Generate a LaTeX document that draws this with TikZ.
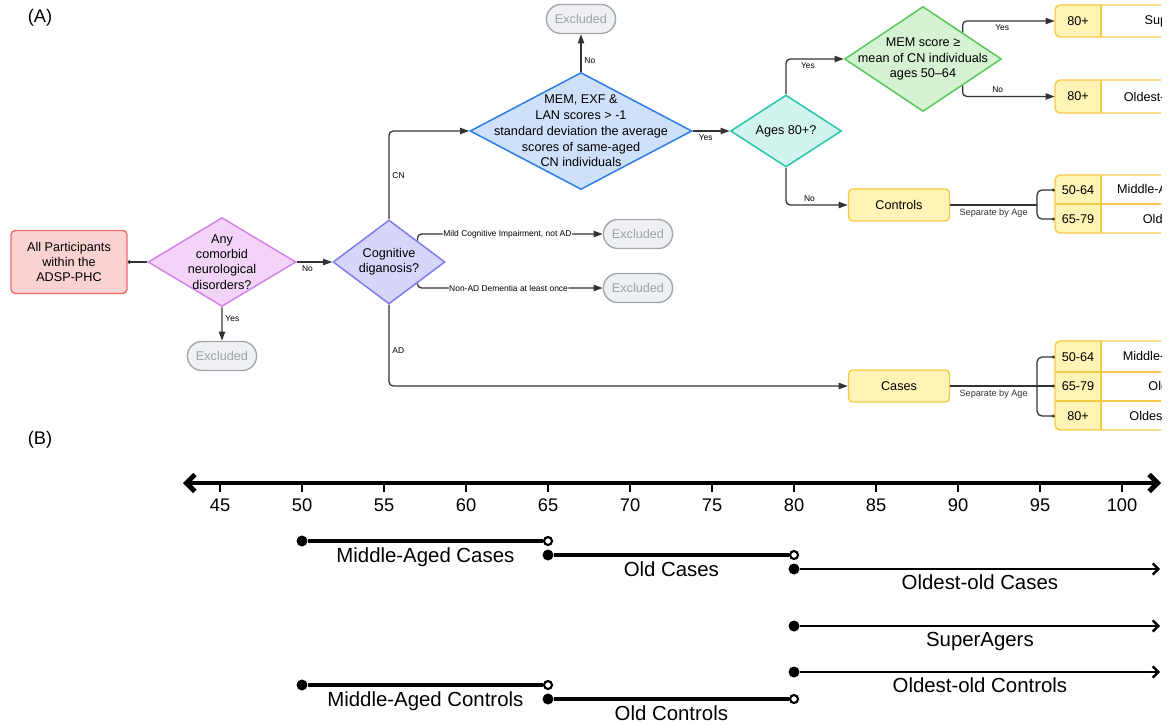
\documentclass[tikz,border=0pt]{standalone}
\usepackage{fontspec}
\setmainfont{Liberation Sans}
\usetikzlibrary{shapes.geometric,shapes.misc,arrows.meta}
\newlength\pxl
\setlength\pxl{0.025cm}
\definecolor{startfill}{HTML}{FAD2D2}
\definecolor{startdraw}{HTML}{EE6B6B}
\definecolor{dafill}{HTML}{F3D4F8}
\definecolor{dadraw}{HTML}{D884EA}
\definecolor{dbfill}{HTML}{D6D6FB}
\definecolor{dbdraw}{HTML}{8080F0}
\definecolor{dcfill}{HTML}{CFE1FA}
\definecolor{dcdraw}{HTML}{2F80E4}
\definecolor{ddfill}{HTML}{D2F4EF}
\definecolor{dddraw}{HTML}{2BC7A8}
\definecolor{defill}{HTML}{D5F3D3}
\definecolor{dedraw}{HTML}{5BC95F}
\definecolor{yfill}{HTML}{FFF3B5}
\definecolor{ydraw}{HTML}{F7CA45}
\definecolor{exfill}{HTML}{EFF0F3}
\definecolor{exdraw}{HTML}{A3A7AE}
\definecolor{extext}{HTML}{9EA2A8}
\definecolor{linec}{HTML}{333333}
\begin{document}
\begin{tikzpicture}[x=0.025cm,y=-0.025cm,
  mainfont/.style={font=\fontsize{9}{10.8}\selectfont},
  smalllab/.style={font=\fontsize{6}{7}\selectfont, text=black, inner sep=2pt},
  conn/.style={draw=linec, line width=0.9pt, rounded corners=3pt},
  arr/.style={conn, -{Triangle[length=6.5pt,width=4.5pt]}},
  dotarr/.style={conn, -{Circle[length=2pt]}},
  startbox/.style={rectangle, rounded corners=3pt, draw=startdraw, fill=startfill, line width=1pt, align=center, mainfont, minimum width=116\pxl, minimum height=63\pxl},
  ybox/.style={rectangle, rounded corners=3pt, draw=ydraw, fill=yfill, line width=1pt, mainfont, minimum width=101\pxl, minimum height=32\pxl},
  exbox/.style={rounded rectangle, draw=exdraw, fill=exfill, line width=1pt, text=extext, mainfont, minimum width=72\pxl, minimum height=29\pxl, inner sep=1pt},
  dia/.style={diamond, inner sep=0pt, line width=1.1pt},
  dtxt/.style={align=center, mainfont, inner sep=0pt},
  tb/.style={draw=ydraw, line width=1pt},
  cell/.style={mainfont, minimum width=46\pxl, inner sep=0pt},
  celltxt/.style={mainfont, inner sep=0pt},
  tlfont/.style={font=\fontsize{14.5}{17}\selectfont},
  fdot/.style={circle, fill=black, inner sep=0pt, minimum size=11\pxl},
  odot/.style={circle, draw=black, fill=white, line width=1.5pt, inner sep=0pt, minimum size=8\pxl},
  seg/.style={draw=black, line width=2.4pt},
  tline/.style={draw=black, line width=1.7pt, -{Straight Barb[length=4pt,width=8pt]}},
  axisline/.style={draw=black, line width=3.5pt, {Straight Barb[length=6pt,width=12pt]}-{Straight Barb[length=6pt,width=12pt]}},
  ticklab/.style={font=\fontsize{13}{15}\selectfont, inner sep=0pt}
]
\useasboundingbox (0,0) rectangle (1168,724);

% panel labels
\node[font=\fontsize{13}{15}\selectfont] (la) at (40,18) {(A)};
\node[font=\fontsize{13}{15}\selectfont] (lb) at (40,440) {(B)};

% ---------------- flowchart nodes ----------------
\node[startbox] (start) at (69,262) {All Participants\\within the\\ADSP-PHC};

\node[dia, draw=dadraw, fill=dafill, minimum width=148\pxl, minimum height=89\pxl] (d1) at (222,262) {};
\node[dtxt] (d1t) at (d1) {Any\\comorbid\\neurological\\disorders?};

\node[exbox] (ex1) at (222,356) {Excluded};

\node[dia, draw=dbdraw, fill=dbfill, minimum width=112\pxl, minimum height=84\pxl] (d2) at (389,262) {};
\node[dtxt] (d2t) at (d2) {Cognitive\\diganosis?};

\node[exbox] (ex2) at (638,234) {Excluded};
\node[exbox] (ex3) at (638,288) {Excluded};

\node[dia, draw=dcdraw, fill=dcfill, minimum width=222\pxl, minimum height=117\pxl] (d3) at (581,131) {};
\node[dtxt, font=\fontsize{9}{11.2}\selectfont] (d3t) at (d3) {MEM, EXF \&\\LAN scores > -1\\standard deviation the average\\scores of same-aged\\CN individuals};

\node[exbox] (ex4) at (581,19) {Excluded};

\node[dia, draw=dddraw, fill=ddfill, minimum width=111\pxl, minimum height=72\pxl] (d4) at (786,131) {};
\node[dtxt] (d4t) at (d4) {Ages 80+?};

\node[dia, draw=dedraw, fill=defill, minimum width=157\pxl, minimum height=105\pxl] (d5) at (923,59) {};
\node[dtxt, font=\fontsize{9}{11}\selectfont] (d5t) at (d5) {MEM score ≥\\mean of CN individuals\\ages 50–64};

\node[ybox] (controls) at (899,205) {Controls};
\node[ybox] (cases) at (899,386) {Cases};

\coordinate (brc) at (1037,205);
\coordinate (brd) at (1037,386);

% ---------------- tables (cut at the right edge) ----------------
\begin{scope}
\clip (1040,0) rectangle (1161,440);
% table 1
\fill[white] (1055,5) rectangle (1260,37);
\begin{scope}\clip[rounded corners=5\pxl] (1055,5) rectangle (1260,37); \fill[yfill] (1055,5) rectangle (1101,37);\end{scope}
\draw[tb, rounded corners=5\pxl] (1055,5) rectangle (1260,37);
\draw[tb] (1101,5) -- (1101,37);
\node[cell] (t1a) at (1078,21) {80+};
\node[celltxt] (t1b) at (1178,21) {SuperAgers};
% table 2
\fill[white] (1055,80) rectangle (1260,113);
\begin{scope}\clip[rounded corners=5\pxl] (1055,80) rectangle (1260,113); \fill[yfill] (1055,80) rectangle (1101,113);\end{scope}
\draw[tb, rounded corners=5\pxl] (1055,80) rectangle (1260,113);
\draw[tb] (1101,80) -- (1101,113);
\node[cell] (t2a) at (1078,96.5) {80+};
\node[celltxt] (t2b) at (1178,96.5) {Oldest-old Controls};
% table 3
\fill[white] (1055,175) rectangle (1260,233);
\begin{scope}\clip[rounded corners=5\pxl] (1055,175) rectangle (1260,233); \fill[yfill] (1055,175) rectangle (1101,233);\end{scope}
\draw[tb, rounded corners=5\pxl] (1055,175) rectangle (1260,233);
\draw[tb] (1101,175) -- (1101,233);
\draw[tb] (1055,204) -- (1260,204);
\node[cell] (t3a) at (1078,190) {50-64};
\node[celltxt] (t3c) at (1178,190) {Middle-Aged Controls};
\node[cell] (t3b) at (1078,219) {65-79};
\node[celltxt] (t3d) at (1178,219) {Old Controls};
% table 4
\fill[white] (1055,341) rectangle (1260,430);
\begin{scope}\clip[rounded corners=5\pxl] (1055,341) rectangle (1260,430); \fill[yfill] (1055,341) rectangle (1101,430);\end{scope}
\draw[tb, rounded corners=5\pxl] (1055,341) rectangle (1260,430);
\draw[tb] (1101,341) -- (1101,430);
\draw[tb] (1055,372) -- (1260,372);
\draw[tb] (1055,401) -- (1260,401);
\node[cell] (t4a) at (1078,357) {50-64};
\node[celltxt] (t4d) at (1178,357) {Middle-Aged Cases};
\node[cell] (t4b) at (1078,386) {65-79};
\node[celltxt] (t4e) at (1178,386) {Old Cases};
\node[cell] (t4c) at (1078,416) {80+};
\node[celltxt] (t4f) at (1178,416) {Oldest-old Cases};
\end{scope}

% ---------------- connectors ----------------
\draw[conn, {Circle[length=2.5pt]}-] (start) -- (d1);
\draw[arr] (d1) -- (d2) node[smalllab, below, pos=0.3] {No};
\draw[arr] (d1) -- (ex1) node[smalllab, right, pos=0.35] {Yes};
\draw[arr] (d2.north) |- (d3.west) node[smalllab, right, pos=0.25] {CN};
\draw[arr] (d2.north east) |- (ex2.west) node[smalllab, fill=white, inner sep=0.5pt, pos=0.743] {Mild Cognitive Impairment, not AD};
\draw[arr] (d2.south east) |- (ex3.west) node[smalllab, fill=white, inner sep=0.5pt, pos=0.746] {Non-AD Dementia at least once};
\draw[arr] (d2.south) |- (cases.west) node[smalllab, right, pos=0.28] {AD};
\draw[arr] (d3.north) -- (ex4.south) node[smalllab, right, pos=0.3] {No};
\draw[arr] (d3.east) -- (d4.west) node[smalllab, below, pos=0.35] {Yes};
\draw[arr] (d4.north) |- (d5.west) node[smalllab, below, pos=0.69] {Yes};
\draw[arr] (d4.south) |- (controls.west) node[smalllab, above, pos=0.69] {No};
\draw[arr] (d5.north east) |- (t1a.west) node[smalllab, below, pos=0.715] {Yes};
\draw[arr] (d5.south east) |- (t2a.west) node[smalllab, above, pos=0.69] {No};

\draw[conn] (controls.east) -- (brc) node[smalllab, below, midway, font=\fontsize{6.5}{7.5}\selectfont, text=black!80] {Separate by Age};
\draw[dotarr, rounded corners=5\pxl] (brc) |- (t3a.west);
\draw[dotarr, rounded corners=5\pxl] (brc) |- (t3b.west);
\draw[conn] (cases.east) -- (brd) node[smalllab, below, midway, font=\fontsize{6.5}{7.5}\selectfont, text=black!80] {Separate by Age};
\draw[dotarr, rounded corners=5\pxl] (brd) |- (t4a.west);
\draw[dotarr] (brd) -- (t4b.west);
\draw[dotarr, rounded corners=5\pxl] (brd) |- (t4c.west);

% ---------------- (B) timeline ----------------
\coordinate (axL) at (183,483);
\coordinate (axR) at (1161,483);
\draw[axisline] (axL) -- (axR);
\foreach \a in {45,50,...,100} {
  \draw[line width=0.8pt] ({302+(\a-50)*16.4},483) -- ({302+(\a-50)*16.4},492);
  \node[ticklab] at ({302+(\a-50)*16.4},505) {\a};
}

% Middle-aged cases
\node[fdot] (mca) at (302,541) {};
\node[odot] (mcb) at (548,541) {};
\draw[seg] (mca) -- (mcb) node[tlfont, midway, below] {Middle-Aged Cases};
% Old cases
\node[fdot] (oca) at (548,555) {};
\node[odot] (ocb) at (794,555) {};
\draw[seg] (oca) -- (ocb) node[tlfont, midway, below] {Old Cases};
% Oldest-old cases
\node[fdot] (ooa) at (794,569) {};
\coordinate (ooe) at (1160,569);
\draw[tline] (ooa) -- (ooe) node[tlfont, midway, below] {Oldest-old Cases};
% SuperAgers
\node[fdot] (saa) at (794,626) {};
\coordinate (sae) at (1160,626);
\draw[tline] (saa) -- (sae) node[tlfont, midway, below] {SuperAgers};
% Oldest-old controls
\node[fdot] (oka) at (794,672) {};
\coordinate (oke) at (1160,672);
\draw[tline] (oka) -- (oke) node[tlfont, midway, below] {Oldest-old Controls};
% Middle-aged controls
\node[fdot] (mka) at (302,685) {};
\node[odot] (mkb) at (548,685) {};
\draw[seg] (mka) -- (mkb) node[tlfont, midway, below] {Middle-Aged Controls};
% Old controls
\node[fdot] (olka) at (548,699) {};
\node[odot] (olkb) at (794,699) {};
\draw[seg] (olka) -- (olkb) node[tlfont, midway, below] {Old Controls};
\end{tikzpicture}
\end{document}
